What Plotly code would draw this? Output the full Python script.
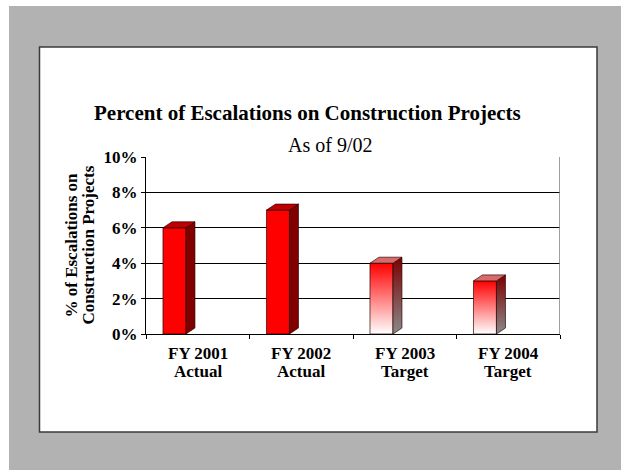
import plotly.graph_objects as go

# ---- data ----
categories = ["FY 2001", "FY 2002", "FY 2003", "FY 2004"]
category_notes = ["Actual", "Actual", "Target", "Target"]
escalation_pct = [6, 7, 4, 3]
is_target = [False, False, True, True]
y_ticks = [0, 2, 4, 6, 8, 10]

# ---- page geometry (pixels) ----
FIG_W, FIG_H = 621, 470
L, R, T, B = 146, 560, 157, 334
Y_MAX = 10
N = len(categories)

# bar geometry in axis units (one category slot = 1 unit)
FRONT_L, FRONT_R = 0.164, 0.386
DEPTH_X = 9 / (R - L) * N
DEPTH_Y = 6 / (B - T) * Y_MAX


def px_x(px):
    return (px - L) / (R - L)


def px_y(py):
    return (B - py) / (B - T)


FONT = "Liberation Serif"
fig = go.Figure()

for i, (v, tgt) in enumerate(zip(escalation_pct, is_target)):
    x0, x1 = i + FRONT_L, i + FRONT_R
    front_x = [x0, x1, x1, x0, x0]
    front_y = [0, 0, v, v, 0]
    side_x = [x1, x1 + DEPTH_X, x1 + DEPTH_X, x1, x1]
    side_y = [0, DEPTH_Y, v + DEPTH_Y, v, 0]
    top_x = [x0, x1, x1 + DEPTH_X, x0 + DEPTH_X, x0]
    top_y = [v, v, v + DEPTH_Y, v + DEPTH_Y, v]
    edge = dict(color="rgba(40,0,0,0.85)", width=0.8)
    common = dict(mode="lines", fill="toself", line=edge,
                  hoverinfo="skip", showlegend=False)
    if tgt:
        fig.add_trace(go.Scatter(
            x=front_x, y=front_y, **common,
            fillgradient=dict(type="vertical", start=0, stop=v,
                              colorscale=[[0, "#FFFFFF"], [1, "#FF0000"]])))
        fig.add_trace(go.Scatter(
            x=side_x, y=side_y, **common,
            fillgradient=dict(type="vertical", start=0, stop=v + DEPTH_Y,
                              colorscale=[[0, "#8A8A8A"], [1, "#7A0000"]])))
        fig.add_trace(go.Scatter(x=top_x, y=top_y, fillcolor="#D86A6A", **common))
    else:
        fig.add_trace(go.Scatter(x=front_x, y=front_y, fillcolor="#FF0000", **common))
        fig.add_trace(go.Scatter(x=side_x, y=side_y, fillcolor="#800000", **common))
        fig.add_trace(go.Scatter(x=top_x, y=top_y, fillcolor="#C00000", **common))

shapes = [
    # grey slide backdrop
    dict(type="rect", xref="paper", yref="paper", layer="below",
         x0=px_x(9), x1=px_x(FIG_W + 2), y0=px_y(FIG_H + 2), y1=px_y(6),
         fillcolor="#B2B2B2", line=dict(width=0)),
    # white chart panel
    dict(type="rect", xref="paper", yref="paper", layer="below",
         x0=px_x(39.5), x1=px_x(597), y0=px_y(432), y1=px_y(47),
         fillcolor="#FFFFFF", line=dict(color="#3A3A3A", width=1.5)),
    # back wall edge on the right
    dict(type="line", xref="x", yref="y", x0=N, x1=N, y0=-0.12, y1=Y_MAX,
         line=dict(color="#808080", width=1.5)),
]

annotations = [
    dict(text="Percent of Escalations on Construction Projects",
         xref="paper", yref="paper", x=px_x(307), y=px_y(113),
         xanchor="center", yanchor="middle", showarrow=False,
         font=dict(family=FONT, size=21, color="black", weight="bold")),
    dict(text="As of 9/02",
         xref="paper", yref="paper", x=px_x(330), y=px_y(145),
         xanchor="center", yanchor="middle", showarrow=False,
         font=dict(family=FONT, size=20, color="black")),
    dict(text="% of Escalations on",
         xref="paper", yref="paper", x=px_x(71), y=0.5, textangle=-90,
         xanchor="center", yanchor="middle", showarrow=False,
         font=dict(family=FONT, size=17, color="black", weight="bold")),
    dict(text="Construction Projects",
         xref="paper", yref="paper", x=px_x(88), y=0.5, textangle=-90,
         xanchor="center", yanchor="middle", showarrow=False,
         font=dict(family=FONT, size=17, color="black", weight="bold")),
]
for i, (c, note) in enumerate(zip(categories, category_notes)):
    for txt, py in ((c, 353), (note, 371)):
        annotations.append(dict(
            text=txt, xref="x", yref="paper", x=i + 0.5, y=px_y(py),
            xanchor="center", yanchor="middle", showarrow=False,
            font=dict(family=FONT, size=17, color="black", weight="bold")))

fig.update_layout(
    width=FIG_W, height=FIG_H,
    margin=dict(l=L, r=FIG_W - R, t=T, b=FIG_H - B, pad=0, autoexpand=False),
    paper_bgcolor="white", plot_bgcolor="rgba(0,0,0,0)",
    shapes=shapes, annotations=annotations,
    xaxis=dict(range=[0, N], tickvals=list(range(N + 1)), showticklabels=False,
               ticks="outside", ticklen=4, tickcolor="black", showgrid=False,
               zeroline=False, showline=True, linecolor="black", linewidth=1,
               fixedrange=True),
    yaxis=dict(range=[0, Y_MAX], tickvals=y_ticks,
               ticktext=[f"{t}%" for t in y_ticks],
               ticks="outside", ticklen=4, tickcolor="black",
               showgrid=True, gridcolor="black", gridwidth=1,
               zeroline=False, showline=True, linecolor="black", linewidth=1,
               tickfont=dict(family=FONT, size=17, color="black", weight="bold"),
               fixedrange=True),
)

fig.write_html("out.html")
